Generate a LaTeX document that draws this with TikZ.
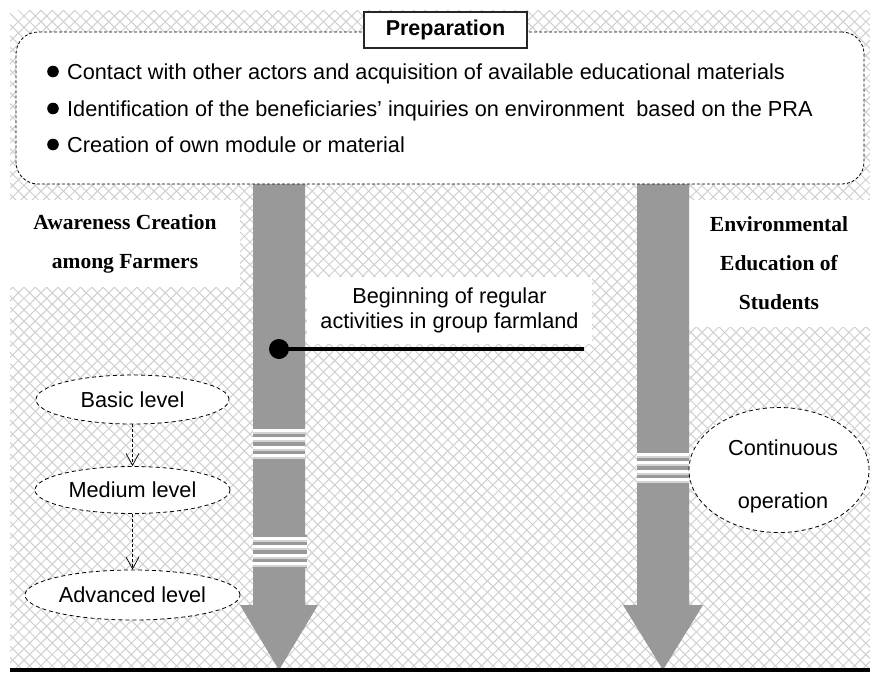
\documentclass[tikz,border=0pt]{standalone}
\usepackage{fontspec}
\setmainfont{Liberation Sans}
\newfontfamily\tnrfont{Liberation Serif}
\usetikzlibrary{shapes.geometric,arrows.meta}
\definecolor{shaftgray}{RGB}{153,153,153}
\definecolor{hatchgray}{RGB}{208,208,208}
\definecolor{stripelight}{RGB}{212,212,212}
\newcommand{\stripeband}[3]{%
  \foreach \k in {0,...,3}{%
    \fill[white] (#1,{#3+1.5+8.5*\k}) rectangle (#2,{#3+4.5+8.5*\k});
    \fill[stripelight] (#1,{#3+4.5+8.5*\k}) rectangle (#2,{#3+6.5+8.5*\k});
  }}
\begin{document}
\begin{tikzpicture}[x=1pt,y=-1pt,
  txt/.style={font=\fontsize{21.7}{25}\selectfont, inner sep=0pt},
  hatch/.style={draw=hatchgray, line width=1pt},
  whitebox/.style={rectangle, fill=white, inner sep=0pt},
  serifhead/.style={font=\tnrfont\bfseries\fontsize{21.5}{39}\selectfont, align=center},
  levelell/.style={ellipse, draw, fill=white, dash pattern=on 4pt off 3pt, line width=0.8pt, inner sep=0pt, font=\fontsize{21.7}{25}\selectfont},
  dasharrow/.style={draw, dash pattern=on 3pt off 2pt, line width=0.7pt, -{Straight Barb[length=12pt,width=13pt,line width=0.7pt]}},
  bulletdot/.style={circle, fill=black, minimum size=11.6pt, inner sep=0pt},
  shaft/.style={fill=shaftgray}]
\useasboundingbox (0,0) rectangle (870,672);
\fill[white] (0,0) rectangle (870,672);
% background hatching
\begin{scope}
  \clip (10,10) rectangle (870,668);
  \foreach \i in {0,...,137}{
    \draw[hatch] ({-660+11.3*\i},10) -- ++(680,680);
    \draw[hatch] ({30+11.3*\i},10) -- ++(-680,680);
  }
\end{scope}
% label boxes
\node[whitebox, serifhead, minimum width=230pt, minimum height=87pt] (aware) at (125,243.5)
  {Awareness Creation\\among Farmers};
\node[whitebox, serifhead, minimum width=182pt, minimum height=127pt] (envedu) at (779,263.5)
  {Environmental\\Education of\\Students};
% big arrows
\fill[shaft] (253,180) -- (305,180) -- (305,605) -- (318,605) -- (279,670) -- (240,605) -- (253,605) -- cycle;
\fill[shaft] (637,180) -- (689,180) -- (689,605) -- (703,605) -- (663,670) -- (623,605) -- (637,605) -- cycle;
% striped bands
\stripeband{253}{305}{427}
\fill[shaft] (253,535) rectangle (307,568);
\stripeband{253}{307}{535}
\stripeband{637}{689}{451}
% bottom line
\fill[black] (10,668) rectangle (870,672);
% preparation box
\node[rectangle, rounded corners=22pt, draw, fill=white, dash pattern=on 3pt off 2pt, line width=0.8pt,
      minimum width=848pt, minimum height=152pt, inner sep=0pt] (prepbox) at (440,108) {};
\node[rectangle, draw=black!85, fill=white, line width=1.2pt, minimum width=163pt, minimum height=36pt,
      inner sep=0pt, font=\bfseries\fontsize{21.5}{25}\selectfont] (preptitle) at (445.5,30) {Preparation};
\node[bulletdot] (d1) at (53,71.5) {};
\node[bulletdot] (d2) at (53,108.5) {};
\node[bulletdot] (d3) at (53,144.5) {};
\node[txt, anchor=base west] (t1) at (67,79) {Contact with other actors and acquisition of available educational materials};
\node[txt, anchor=base west] (t2) at (67,116) {Identification of the beneficiaries’ inquiries on environment\ \ based on the PRA};
\node[txt, anchor=base west] (t3) at (67,152) {Creation of own module or material};
% beginning label and connector
\node[whitebox, txt, align=center, minimum width=285pt, minimum height=67pt] (begin) at (449.5,310)
  {Beginning of regular\\activities in group farmland};
\node[circle, fill=black, minimum size=20pt, inner sep=0pt] (dot) at (279,349) {};
\coordinate (lineend) at (584,349);
\draw[line width=4pt] (dot.center) -- (lineend);
% levels
\node[levelell, minimum width=193pt, minimum height=49pt] (basic) at (132.5,399.5) {Basic level};
\node[levelell, minimum width=195pt, minimum height=47pt] (medium) at (132.5,490) {Medium level};
\node[levelell, minimum width=215pt, minimum height=50pt] (advanced) at (132.5,595) {Advanced level};
\draw[dasharrow] (basic.south) -- (medium.north);
\draw[dasharrow] (medium.south) -- (advanced.north);
% continuous operation
\node[levelell, minimum width=180pt, minimum height=125pt] (cont) at (779,470) {};
\node[font=\fontsize{21.7}{53}\selectfont, align=center, inner sep=0pt, anchor=north] (conttext) at (783,440)
  {Continuous\\operation};
\end{tikzpicture}
\end{document}
